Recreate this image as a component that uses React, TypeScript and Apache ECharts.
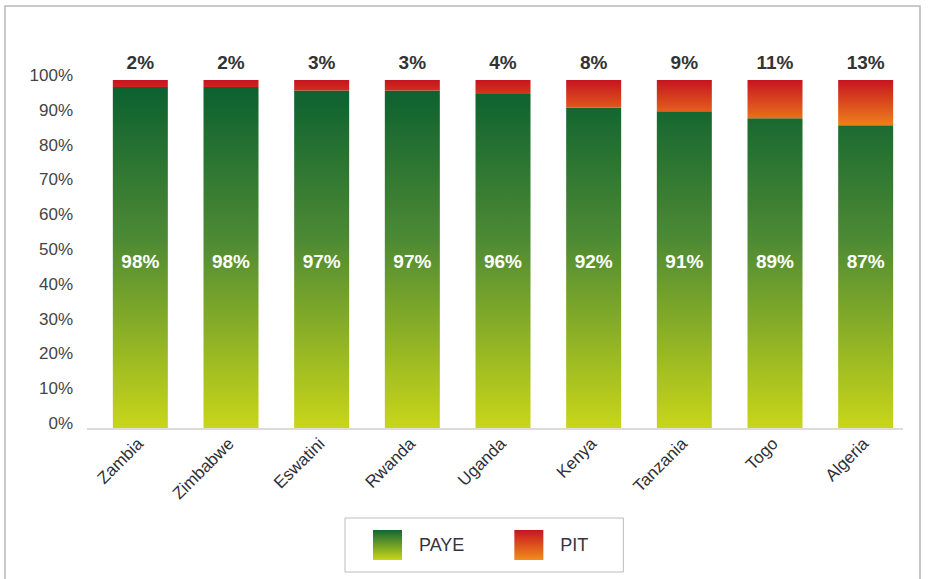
import React, { useEffect, useRef } from "react";
import * as echarts from "echarts";

const categories = ["Zambia", "Zimbabwe", "Eswatini", "Rwanda", "Uganda", "Kenya", "Tanzania", "Togo", "Algeria"];
const payeShare = [98, 98, 97, 97, 96, 92, 91, 89, 87];
const pitShare = [2, 2, 3, 3, 4, 8, 9, 11, 13];
const seriesNames = ["PAYE", "PIT"];

const FONT = "'Liberation Sans', Arial, Helvetica, sans-serif";

export default function App() {
  const ref = useRef<HTMLDivElement>(null);
  useEffect(() => {
    if (!ref.current) return;
    const chart = echarts.init(ref.current, undefined, { renderer: "svg" });
    const greenGlobal = new echarts.graphic.LinearGradient(0, 80, 0, 428, [
      { offset: 0, color: "#085f2f" },
      { offset: 0.45, color: "#4c8934" },
      { offset: 1, color: "#c9d619" },
    ], true);
    const redGlobal = new echarts.graphic.LinearGradient(0, 80, 0, 130, [
      { offset: 0, color: "#c7141f" },
      { offset: 1, color: "#f28c1c" },
    ], true);
    const greenLocal = new echarts.graphic.LinearGradient(0, 0, 0, 1, [
      { offset: 0, color: "#136633" },
      { offset: 1, color: "#c9d619" },
    ]);
    const redLocal = new echarts.graphic.LinearGradient(0, 0, 0, 1, [
      { offset: 0, color: "#c7141f" },
      { offset: 1, color: "#f28c1c" },
    ]);
    chart.setOption({
      animation: false,
      backgroundColor: "#ffffff",
      textStyle: { fontFamily: FONT },
      grid: { left: 95, top: 80, width: 816, height: 348, containLabel: false },
      graphic: [
        {
          type: "rect",
          shape: { x: 5, y: 6, width: 915, height: 640 },
          style: { fill: "none", stroke: "#b8b8b8", lineWidth: 1.5 },
          silent: true,
        },
        {
          type: "line",
          shape: { x1: 87, y1: 429, x2: 903, y2: 429 },
          style: { stroke: "#dcdcdc", lineWidth: 2 },
          silent: true,
        },
      ],
      legend: {
        left: 345,
        top: 518,
        orient: "horizontal",
        padding: [12, 35, 12, 28],
        itemWidth: 29,
        itemHeight: 30,
        itemGap: 50,
        borderColor: "#bcbcbc",
        borderWidth: 1,
        icon: "rect",
        textStyle: { fontSize: 18, color: "#33363e", fontFamily: FONT, padding: [0, 0, 0, 12] },
        data: [
          { name: seriesNames[0], itemStyle: { color: greenLocal } },
          { name: seriesNames[1], itemStyle: { color: redLocal } },
        ],
      },
      xAxis: {
        type: "category",
        data: categories,
        axisLine: { show: false },
        axisTick: { show: false },
        axisLabel: {
          rotate: 45,
          margin: 13,
          fontSize: 17,
          color: "#2f2f35",
          fontFamily: FONT,
          interval: 0,
        },
      },
      yAxis: {
        type: "value",
        min: 0,
        max: 100,
        interval: 10,
        axisLine: { show: false },
        axisTick: { show: false },
        splitLine: { show: false },
        axisLabel: {
          formatter: "{t|{value}%}",
          margin: 22,
          rich: {
            t: {
              fontSize: 17,
              color: "#444",
              fontFamily: FONT,
              padding: [0, 0, 9, 0],
            },
          },
        },
      },
      series: [
        {
          name: seriesNames[0],
          type: "bar",
          stack: "total",
          data: payeShare,
          barWidth: 55,
          itemStyle: { color: greenGlobal },
          label: {
            show: true,
            position: "insideBottom",
            distance: 157,
            formatter: "{c}%",
            color: "#ffffff",
            fontWeight: "bold",
            fontSize: 19,
            fontFamily: FONT,
          },
        },
        {
          name: seriesNames[1],
          type: "bar",
          stack: "total",
          data: pitShare,
          barWidth: 55,
          itemStyle: { color: redGlobal },
          label: {
            show: true,
            position: "top",
            distance: 8,
            formatter: "{c}%",
            color: "#333",
            fontWeight: "bold",
            fontSize: 19,
            fontFamily: FONT,
          },
        },
      ],
    });
    return () => chart.dispose();
  }, []);
  return (
    <div
      ref={ref}
      style={{ position: "fixed", left: 0, top: 0, width: 929, height: 579, background: "#fff" }}
    />
  );
}
